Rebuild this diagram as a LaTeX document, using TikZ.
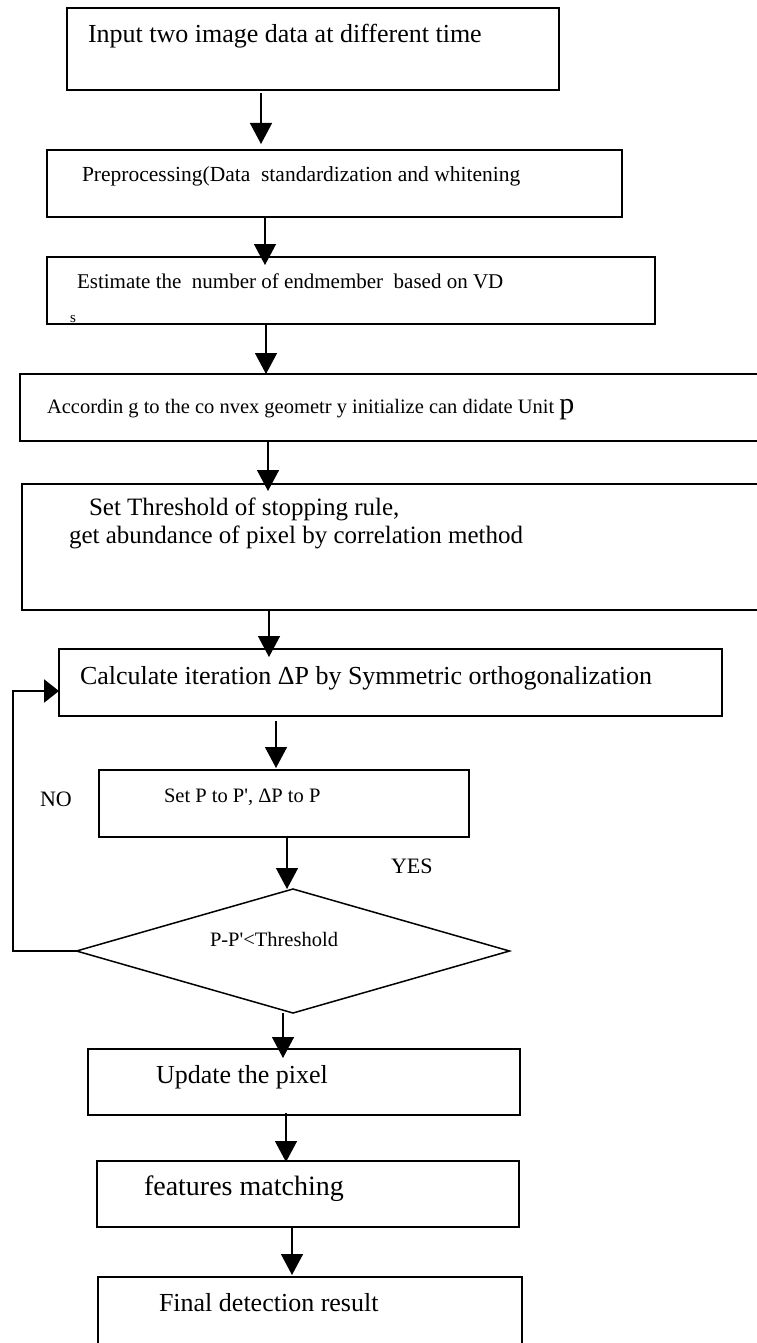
\documentclass[tikz,border=0pt]{standalone}
\usepackage{fontspec}
\setmainfont{Liberation Serif}
\usetikzlibrary{arrows.meta,shapes.geometric}
\newcommand{\fsz}[1]{\fontsize{#1}{#1}\selectfont}
\begin{document}
\begin{tikzpicture}[x=1pt,y=-1pt,
  box/.style={draw,line width=1.8pt,inner sep=0pt,outer sep=0pt,anchor=north west},
  lbl/.style={inner sep=0pt,outer sep=0pt,anchor=base west},
  arr/.style={line width=1.4pt,-{Triangle[length=21pt,width=22pt]}},
  fb/.style={line width=2.6pt,-{Triangle[length=15pt,width=23pt]}}]
\useasboundingbox (0,0) rectangle (757,1343);
\clip (0,0) rectangle (757,1343);
% boxes
\node[box,minimum width=492pt,minimum height=82pt] (b1) at (67,8) {};
\node[box,minimum width=575pt,minimum height=67pt] (b2) at (47,150) {};
\node[box,minimum width=608pt,minimum height=67pt] (b3) at (47,257) {};
\node[box,minimum width=760pt,minimum height=67pt] (b4) at (20,374) {};
\node[box,minimum width=760pt,minimum height=126pt] (b5) at (22,484) {};
\node[box,minimum width=663pt,minimum height=67pt] (b6) at (59,649) {};
\node[box,minimum width=370pt,minimum height=67pt] (b7) at (99,770) {};
\node[draw,diamond,line width=1.5pt,inner sep=0pt,outer sep=0pt,minimum width=433pt,minimum height=124pt] (d) at (293,951) {};
\node[box,minimum width=432pt,minimum height=66pt] (b8) at (88,1049) {};
\node[box,minimum width=422pt,minimum height=66pt] (b9) at (97,1161) {};
\node[box,minimum width=424pt,minimum height=90pt] (b10) at (98,1277) {};
% texts
\node[lbl,font=\fsz{26}] (t1) at (88,43) {Input two image data at different time};
\node[lbl,font=\fsz{21.5}] (t2) at (82,182) {Preprocessing(Data\ \ standardization and whitening};
\node[lbl,font=\fsz{21}] (t3) at (77,288) {Estimate the\ \ number of endmember\ \ based on VD};
\node[lbl,font=\fsz{15}] (t3s) at (70,322) {s};
\node[lbl,font=\fsz{20.5}] (t4) at (47,413) {Accordin g to the co nvex geometr y initialize can didate Unit {\fsz{30}p}};
\node[lbl,font=\fsz{25}] (t5a) at (89,515) {Set Threshold of stopping rule,};
\node[lbl,font=\fsz{25}] (t5b) at (69,543) {get abundance of pixel by correlation method};
\node[lbl,font=\fsz{26}] (t6) at (80,684) {Calculate iteration ΔP by Symmetric orthogonalization};
\node[lbl,font=\fsz{20.5}] (t7) at (164,802) {Set P to P\textquotesingle, ΔP to P};
\node[lbl,font=\fsz{22}] (no) at (40,806) {NO};
\node[lbl,font=\fsz{22}] (yes) at (391,873) {YES};
\node[lbl,font=\fsz{20.5}] (td) at (210,946) {P-P\textquotesingle<Threshold};
\node[lbl,font=\fsz{26}] (t8) at (156,1083) {Update the pixel};
\node[lbl,font=\fsz{28}] (t9) at (144,1195) {features matching};
\node[lbl,font=\fsz{26}] (t10) at (159,1311) {Final detection result};
% arrows
\draw[arr,shorten <=3pt,shorten >=6pt] (b1.south -| 261,0) -- (b2.north -| 261,0);
\draw[arr,shorten >=-8pt] (b2.south -| 265,0) -- (b3.north -| 265,0);
\draw[arr] (b3.south -| 266,0) -- (b4.north -| 266,0);
\draw[arr,shorten >=-7pt] (b4.south -| 268,0) -- (b5.north -| 268,0);
\draw[arr,shorten >=-8pt] (b5.south -| 269,0) -- (b6.north -| 269,0);
\draw[arr,shorten <=5pt,shorten >=2pt] (b6.south -| 276,0) -- (b7.north -| 276,0);
\draw[arr] (b7.south -| 287,0) -- (d.north -| 287,0);
\draw[arr,shorten >=-9pt] (d.south -| 283,0) -- (b8.north -| 283,0);
\draw[arr,shorten <=-2pt,shorten >=-1pt] (b8.south -| 286,0) -- (b9.north -| 286,0);
\draw[arr,shorten >=2pt] (b9.south -| 292,0) -- (b10.north -| 292,0);
% feedback loop
\coordinate (fb1) at (13,951);
\coordinate (fb2) at (13,691);
\draw[fb] (d.west) -- (fb1) -- (fb2) -- (b6.west |- fb2);
\end{tikzpicture}
\end{document}
